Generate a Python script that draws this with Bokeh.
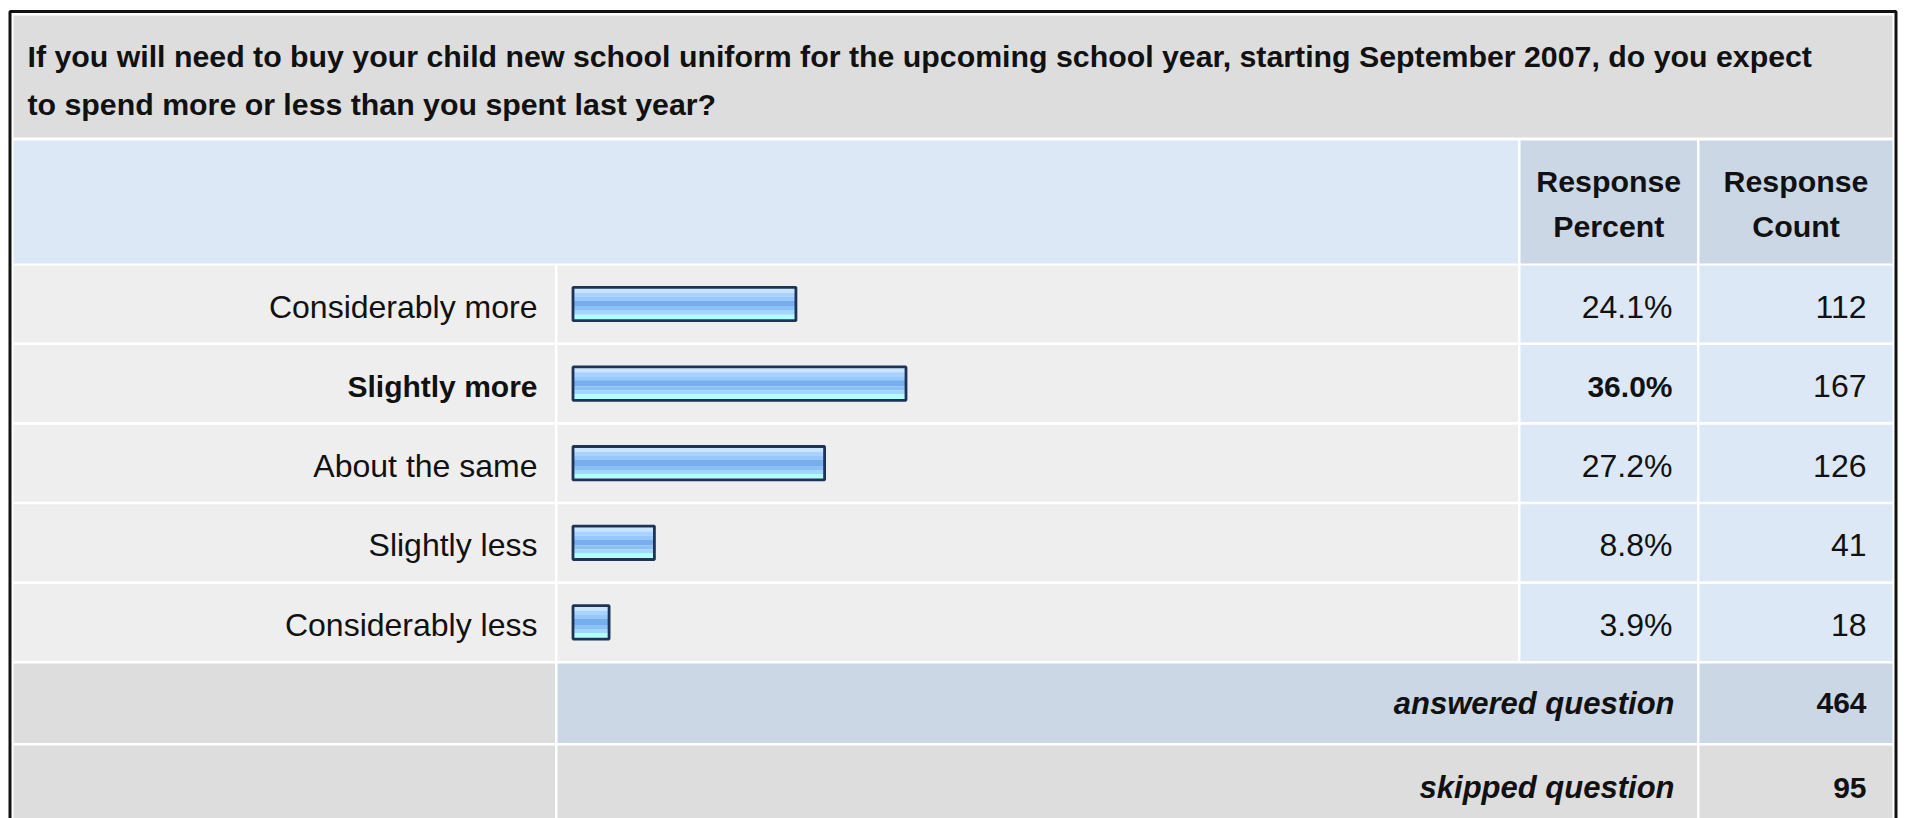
from bokeh.plotting import figure
from bokeh.models import Range1d
from bokeh.core.properties import value
from bokeh.embed import file_html
from bokeh.resources import INLINE

# ---------------- data ----------------
question_lines = [
    "If you will need to buy your child new school uniform for the upcoming school year, starting September 2007, do you expect",
    "to spend more or less than you spent last year?",
]
header_percent = ["Response", "Percent"]
header_count = ["Response", "Count"]
categories = ["Considerably more", "Slightly more", "About the same", "Slightly less", "Considerably less"]
percents = [24.1, 36.0, 27.2, 8.8, 3.9]
counts = [112, 167, 126, 41, 18]
answered_label = "answered question"
skipped_label = "skipped question"
answered = 464
skipped = 95

# ---------------- layout (page pixels) ----------------
W, H = 1907, 818
X_LEFT, X_LABEL_R, X_BAR_L, X_BAR_R = 13, 554.5, 557, 1517.5
X_PCT_L, X_PCT_R, X_CNT_L, X_CNT_R = 1520, 1696.5, 1699, 1892
ROW0, PITCH, ROW_H = 265, 79.6, 77
BAR_X0, BAR_K = 572.5, 9.25  # 0% position and px per percent

FONT = value("Liberation Sans")
REG = "32px"
BOLD = "30px"
HEAD = "30.3px"
GREY_D = "#dddddd"
GREY_L = "#eeeeee"
BLUE_L = "#dce8f5"
BLUE_D = "#cbd7e5"
TXT = "#111111"

p = figure(width=W, height=H, x_range=Range1d(0, W), y_range=Range1d(H, 0),
           output_backend="svg", toolbar_location=None,
           x_axis_type=None, y_axis_type=None, min_border=0)
p.outline_line_color = None
p.background_fill_color = "white"
p.border_fill_color = "white"
p.extra_x_ranges = {"pct": Range1d(-BAR_X0 / BAR_K, (W - BAR_X0) / BAR_K)}

# outer frame
p.quad(left=[9.5], right=[1895.5], top=[11], bottom=[840], fill_color=None,
       line_color="#111111", line_width=3)

# title cell
p.quad(left=[X_LEFT], right=[X_CNT_R], top=[15], bottom=[137], fill_color=GREY_D, line_color=None)
p.text(x=[27, 27], y=[55.5, 103.5], text=question_lines, text_font=FONT, text_font_size=HEAD,
       text_font_style="bold", text_align="left", text_baseline="alphabetic", text_color=TXT)

# header row
p.quad(left=[X_LEFT, X_PCT_L, X_CNT_L], right=[X_BAR_R, X_PCT_R, X_CNT_R],
       top=[140] * 3, bottom=[263] * 3, fill_color=[BLUE_L, BLUE_D, BLUE_D], line_color=None)
cx_pct = (X_PCT_L + X_PCT_R) / 2
cx_cnt = (X_CNT_L + X_CNT_R) / 2
p.text(x=[cx_pct, cx_pct, cx_cnt, cx_cnt], y=[181, 226, 181, 226],
       text=header_percent + header_count, text_font=FONT, text_font_size=HEAD,
       text_font_style="bold", text_align="center", text_baseline="alphabetic", text_color=TXT)

# data rows
n = len(categories)
tops = [ROW0 + PITCH * i for i in range(n)]
bots = [t + ROW_H for t in tops]
centers = [(t + b) / 2 for t, b in zip(tops, bots)]
for l, r, c in [(X_LEFT, X_LABEL_R, GREY_L), (X_BAR_L, X_BAR_R, GREY_L),
                (X_PCT_L, X_PCT_R, BLUE_L), (X_CNT_L, X_CNT_R, BLUE_L)]:
    p.quad(left=[l] * n, right=[r] * n, top=tops, bottom=bots, fill_color=c, line_color=None)

top_i = max(range(n), key=lambda i: percents[i])
pct_txt = [f"{v:.1f}%" for v in percents]
base = [c + 2.5 for c in centers]
reg = [i for i in range(n) if i != top_i]
p.text(x=[537] * len(reg), y=[base[i] for i in reg], text=[categories[i] for i in reg],
       text_font=FONT, text_font_size=REG, text_align="right", text_baseline="alphabetic", text_color=TXT)
p.text(x=[537], y=[base[top_i]], text=[categories[top_i]], text_font=FONT, text_font_size=BOLD,
       text_font_style="bold", text_align="right", text_baseline="alphabetic", text_color=TXT)
p.text(x=[1672] * len(reg), y=[base[i] for i in reg], text=[pct_txt[i] for i in reg],
       text_font=FONT, text_font_size=REG, text_align="right", text_baseline="alphabetic", text_color=TXT)
p.text(x=[1672], y=[base[top_i]], text=[pct_txt[top_i]], text_font=FONT, text_font_size=BOLD,
       text_font_style="bold", text_align="right", text_baseline="alphabetic", text_color=TXT)
p.text(x=[1866] * n, y=base, text=[str(c) for c in counts], text_font=FONT, text_font_size=REG,
       text_align="right", text_baseline="alphabetic", text_color=TXT)

# bars: striped gradient + dark outline
stripes = [(-15.3, -11.3, "#c8e4ff"), (-11.3, -7.3, "#a9d3ff"), (-7.3, -3.3, "#97c8fd"),
           (-3.3, 2.7, "#76aeee"), (2.7, 6.7, "#8cc1f8"), (6.7, 10.7, "#a2d5ff"), (10.7, 15.3, "#b2ffff")]
for a, b, col in stripes:
    p.hbar(y=[c + (a + b) / 2 for c in centers], height=b - a, left=0, right=percents,
           fill_color=col, line_color=None, x_range_name="pct")
p.hbar(y=centers, height=33.4, left=0, right=percents, fill_color=None,
       line_color="#1d3457", line_width=2.8, x_range_name="pct")

# answered row
a_top, a_bot = 663, 742.5
p.quad(left=[X_LEFT, X_BAR_L, X_CNT_L], right=[X_LABEL_R, X_PCT_R, X_CNT_R],
       top=[a_top] * 3, bottom=[a_bot] * 3, fill_color=[GREY_D, BLUE_D, BLUE_D], line_color=None)
# skipped row
s_top, s_bot = 745, 840
p.quad(left=[X_LEFT, X_BAR_L, X_CNT_L], right=[X_LABEL_R, X_PCT_R, X_CNT_R],
       top=[s_top] * 3, bottom=[s_bot] * 3, fill_color=GREY_D, line_color=None)

p.text(x=[1674, 1674], y=[702.5, 787], text=[answered_label, skipped_label], text_font=FONT,
       text_font_size="31px", text_font_style="bold italic", text_align="right",
       text_baseline="alphabetic", text_color=TXT)
p.text(x=[1866, 1866], y=[702.5, 787], text=[str(answered), str(skipped)], text_font=FONT,
       text_font_size=BOLD, text_font_style="bold", text_align="right",
       text_baseline="alphabetic", text_color=TXT)

open("out.html", "w").write(file_html(p, INLINE))
